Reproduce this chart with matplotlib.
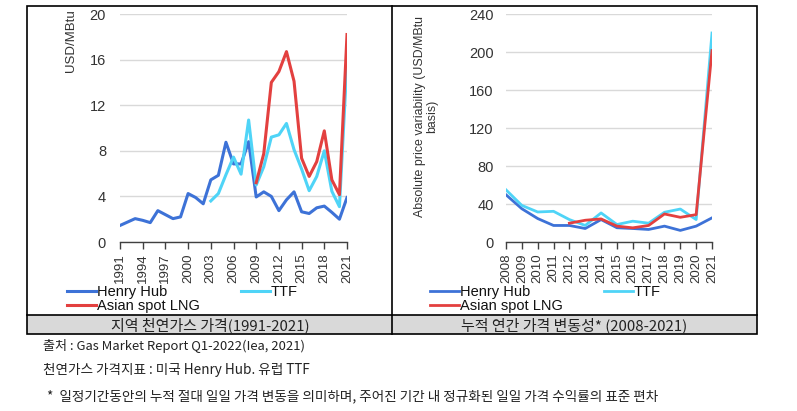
import matplotlib
matplotlib.use("Agg")
import matplotlib.pyplot as plt
from matplotlib.patches import Rectangle
from matplotlib.lines import Line2D

plt.rcParams['font.family'] = ['Liberation Sans', 'DejaVu Sans']
KR = ['Noto Sans CJK KR', 'DejaVu Sans']

# left panel: regional gas prices (USD/MBtu)
years_price = list(range(1991, 2022))
henry_price = [1.45, 1.75, 2.05, 1.9, 1.7, 2.75, 2.4, 2.05, 2.2, 4.25, 3.9, 3.35, 5.45,
               5.85, 8.75, 6.85, 6.85, 8.8, 3.95, 4.4, 4.0, 2.75, 3.7, 4.4, 2.65, 2.5,
               3.0, 3.15, 2.6, 2.0, 3.9]
ttf_years = list(range(2003, 2022))
ttf_price = [3.6, 4.25, 5.9, 7.45, 5.95, 10.7, 5.0, 6.6, 9.2, 9.4, 10.4, 8.1, 6.4, 4.5,
             5.75, 8.0, 4.45, 3.1, 15.8]
lng_years = list(range(2009, 2022))
lng_price = [5.2, 7.75, 14.0, 14.95, 16.7, 14.1, 7.35, 5.75, 7.05, 9.75, 5.45, 4.15, 18.2]

# right panel: cumulative annual price variability
years_var = list(range(2008, 2022))
henry_var = [49.7, 35, 24.7, 17.4, 17.4, 14.2, 23.6, 15, 14.2, 13.2, 16.7, 12.2, 16.7, 25.4]
ttf_var = [54.9, 38.5, 31.6, 32.3, 23.6, 17.4, 30.6, 18.4, 21.9, 19.8, 31.3, 34.7, 23.6, 220]
lng_years_var = list(range(2012, 2022))
lng_var = [19.8, 22.9, 24.3, 16.7, 14.9, 17.4, 29.5, 26, 28.8, 201.5]

c_hh = '#3d72d7'
c_ttf = '#4fd4f7'
c_lng = '#e3403f'

W, H = 797, 411
fig = plt.figure(figsize=(W / 100, H / 100), dpi=100)

# table frame drawn in pixel coordinates on a background axes
bg = fig.add_axes([0, 0, 1, 1], zorder=-1)
bg.set_xlim(0, W)
bg.set_ylim(H, 0)
bg.axis('off')
bg.add_patch(Rectangle((27, 315), 730, 19, facecolor='#d9d9d9', edgecolor='none'))
bg.add_patch(Rectangle((27, 6), 730, 328, facecolor='none', edgecolor='black', lw=1.2))
bg.add_line(Line2D([392, 392], [6, 334], color='black', lw=1.2))
bg.add_line(Line2D([27, 757], [315, 315], color='black', lw=1.2))
bg.text(210, 325, '지역 천연가스 가격(1991-2021)', family=KR, fontsize=10.8,
        ha='center', va='center', color='#222222')
bg.text(574, 325, '누적 연간 가격 변동성* (2008-2021)', family=KR, fontsize=10.8,
        ha='center', va='center', color='#222222')
bg.text(43, 346, '출처 : Gas Market Report Q1-2022(Iea, 2021)', family=KR, fontsize=9.4,
        ha='left', va='center', color='#222222')
bg.text(43, 370, '천연가스 가격지표 : 미국 Henry Hub. 유럽 TTF', family=KR, fontsize=9.8,
        ha='left', va='center', color='#222222')
bg.text(47, 396, '*  일정기간동안의 누적 절대 일일 가격 변동을 의미하며, 주어진 기간 내 정규화된 일일 가격 수익률의 표준 편차',
        family=KR, fontsize=9.8, ha='left', va='center', color='#222222')


def style(ax, ymax, ystep, xticks, xfs, ypad):
    ax.set_ylim(0, ymax)
    ax.set_yticks(range(0, ymax + 1, ystep))
    ax.set_xticks(xticks)
    ax.set_xticklabels([str(y) for y in xticks], rotation=90, fontsize=xfs, color='#333333')
    ax.tick_params(axis='y', length=0, pad=ypad, labelsize=10.5, labelcolor='#333333')
    ax.tick_params(axis='x', length=5, width=1, color='#404040', pad=3, direction='out')
    ax.grid(axis='y', color='#d9d9d9', lw=1)
    ax.set_axisbelow(True)
    for s in ['top', 'right', 'left']:
        ax.spines[s].set_visible(False)
    ax.spines['bottom'].set_color('#404040')
    ax.spines['bottom'].set_linewidth(1)


ax1 = fig.add_axes([120 / W, 1 - 242 / H, 227 / W, 228 / H])
h1, = ax1.plot(years_price, henry_price, color=c_hh, lw=2.2, label='Henry Hub')
h2, = ax1.plot(ttf_years, ttf_price, color=c_ttf, lw=2.2, label='TTF')
h3, = ax1.plot(lng_years, lng_price, color=c_lng, lw=2.2, label='Asian spot LNG')
ax1.set_xlim(1991, 2021)
style(ax1, 20, 4, list(range(1991, 2022, 3)), 9.5, 10)
ax1.set_ylabel('USD/MBtu', loc='top', fontsize=9.5, color='#333333')
ax1.yaxis.set_label_coords(-0.19, 1.02)

ax2 = fig.add_axes([506 / W, 1 - 242 / H, 206 / W, 228 / H])
g1, = ax2.plot(years_var, henry_var, color=c_hh, lw=2, label='Henry Hub')
g2, = ax2.plot(years_var, ttf_var, color=c_ttf, lw=2, label='TTF')
g3, = ax2.plot(lng_years_var, lng_var, color=c_lng, lw=2, label='Asian spot LNG')
ax2.set_xlim(2008, 2021)
style(ax2, 240, 40, years_var, 9.5, 9)
ax2.set_ylabel('Absolute price variability (USD/MBtu\nbasis)', fontsize=8.9,
               color='#333333', linespacing=1.05)
ax2.yaxis.set_label_coords(-0.33, 0.55)

for hs, x0 in [((h1, h3, h2), 67), ((g1, g3, g2), 430)]:
    fig.legend(hs, [h.get_label() for h in hs], ncol=2, frameon=False,
               loc='upper left', bbox_to_anchor=(x0 / W, 1 - 285 / H),
               fontsize=10.5, handlelength=2.0, handletextpad=0.05,
               columnspacing=2.8, labelspacing=0.0, borderpad=0,
               borderaxespad=0, labelcolor='#111111')

fig.savefig('out.png', dpi=100)
